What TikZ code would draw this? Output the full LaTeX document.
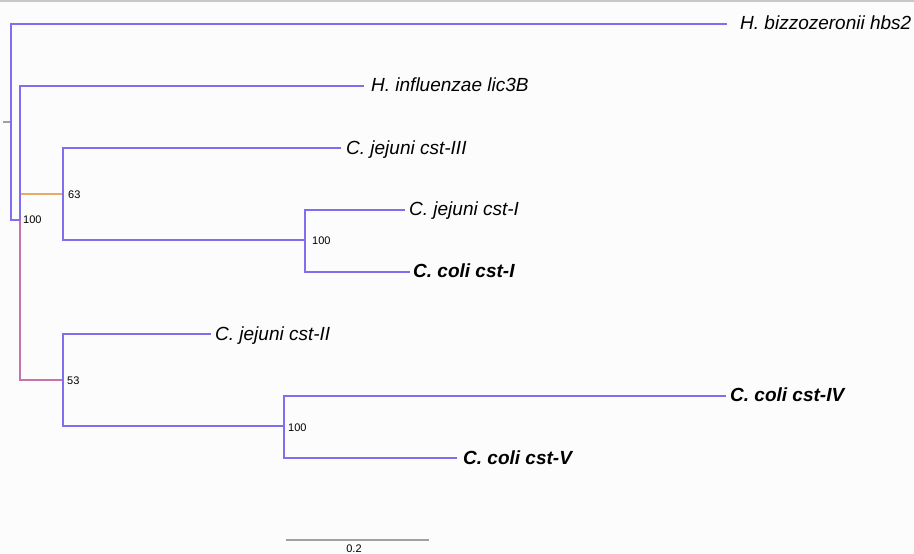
\documentclass[tikz,border=0pt]{standalone}
\usepackage{fontspec}
\setmainfont{Liberation Sans}
\definecolor{bl}{RGB}{128,110,240}
\definecolor{org}{RGB}{232,170,100}
\definecolor{pnk}{RGB}{200,115,175}
\definecolor{gr}{RGB}{160,160,160}
\definecolor{bgc}{RGB}{252,252,252}
\definecolor{topc}{RGB}{200,200,200}
\begin{document}
\begin{tikzpicture}[x=1pt,y=-1pt,
  br/.style={draw=bl,line width=1.1pt},
  taxon/.style={anchor=base west,inner sep=0pt,font=\fontsize{19}{22}\selectfont\itshape},
  taxonb/.style={taxon,font=\fontsize{19}{22}\selectfont\itshape\bfseries},
  boot/.style={anchor=west,inner sep=0pt,font=\fontsize{11}{12}\selectfont}]
\fill[bgc] (0,0) rectangle (914,554);
\useasboundingbox (0,0) rectangle (914,554);
\draw[topc,line width=1.5pt] (0,0.8) -- (914,0.8);
% internal nodes
\coordinate (root0) at (3,122);
\coordinate (root) at (11,122);
\coordinate (nA) at (20,220);
\coordinate (n63) at (63,194);
\coordinate (nX) at (305,240);
\coordinate (n53) at (63,380);
\coordinate (nY) at (284,426);
% tips
\coordinate (tBiz) at (727,24);
\coordinate (tInf) at (364,86);
\coordinate (tJ3) at (341,148);
\coordinate (tJ1) at (405,210);
\coordinate (tC1) at (410,272);
\coordinate (tJ2) at (211,334);
\coordinate (tC4) at (726,396);
\coordinate (tC5) at (457,458);
% branches
\draw[gr,line width=1.1pt] (root0) -- (root);
\draw[org,line width=1.1pt] (nA) |- (n63);
\draw[pnk,line width=1.1pt] (nA) |- (n53);
\draw[br] (root) |- (tBiz);
\draw[br] (root) |- (nA);
\draw[br] (nA) |- (tInf);
\draw[br] (n63) |- (tJ3);
\draw[br] (n63) |- (nX);
\draw[br] (nX) |- (tJ1);
\draw[br] (nX) |- (tC1);
\draw[br] (n53) |- (tJ2);
\draw[br] (n53) |- (nY);
\draw[br] (nY) |- (tC4);
\draw[br] (nY) |- (tC5);
% scale bar
\coordinate (s0) at (286,540);
\coordinate (s1) at (429,540);
\draw[gr,line width=2pt] (s0) -- (s1);
% taxon labels
\node[taxon] (lBiz) at (740,29) {H. bizzozeronii hbs2};
\node[taxon] (lInf) at (371,91) {H. influenzae lic3B};
\node[taxon] (lJ3) at (346,154) {C. jejuni cst-III};
\node[taxon] (lJ1) at (409,215) {C. jejuni cst-I};
\node[taxonb] (lC1) at (413,277) {C. coli cst-I};
\node[taxon] (lJ2) at (215,340) {C. jejuni cst-II};
\node[taxonb] (lC4) at (730,401) {C. coli cst-IV};
\node[taxonb] (lC5) at (463,464) {C. coli cst-V};
% bootstrap labels
\node[boot] (b63) at (68,194.5) {63};
\node[boot] (bA) at (23,219.5) {100};
\node[boot] (bX) at (312,240.5) {100};
\node[boot] (b53) at (67,380.5) {53};
\node[boot] (bY) at (288,427.5) {100};
\node[anchor=north,inner sep=0pt,font=\fontsize{11}{12}\selectfont] (sl) at (354,545) {0.2};
\end{tikzpicture}
\end{document}
